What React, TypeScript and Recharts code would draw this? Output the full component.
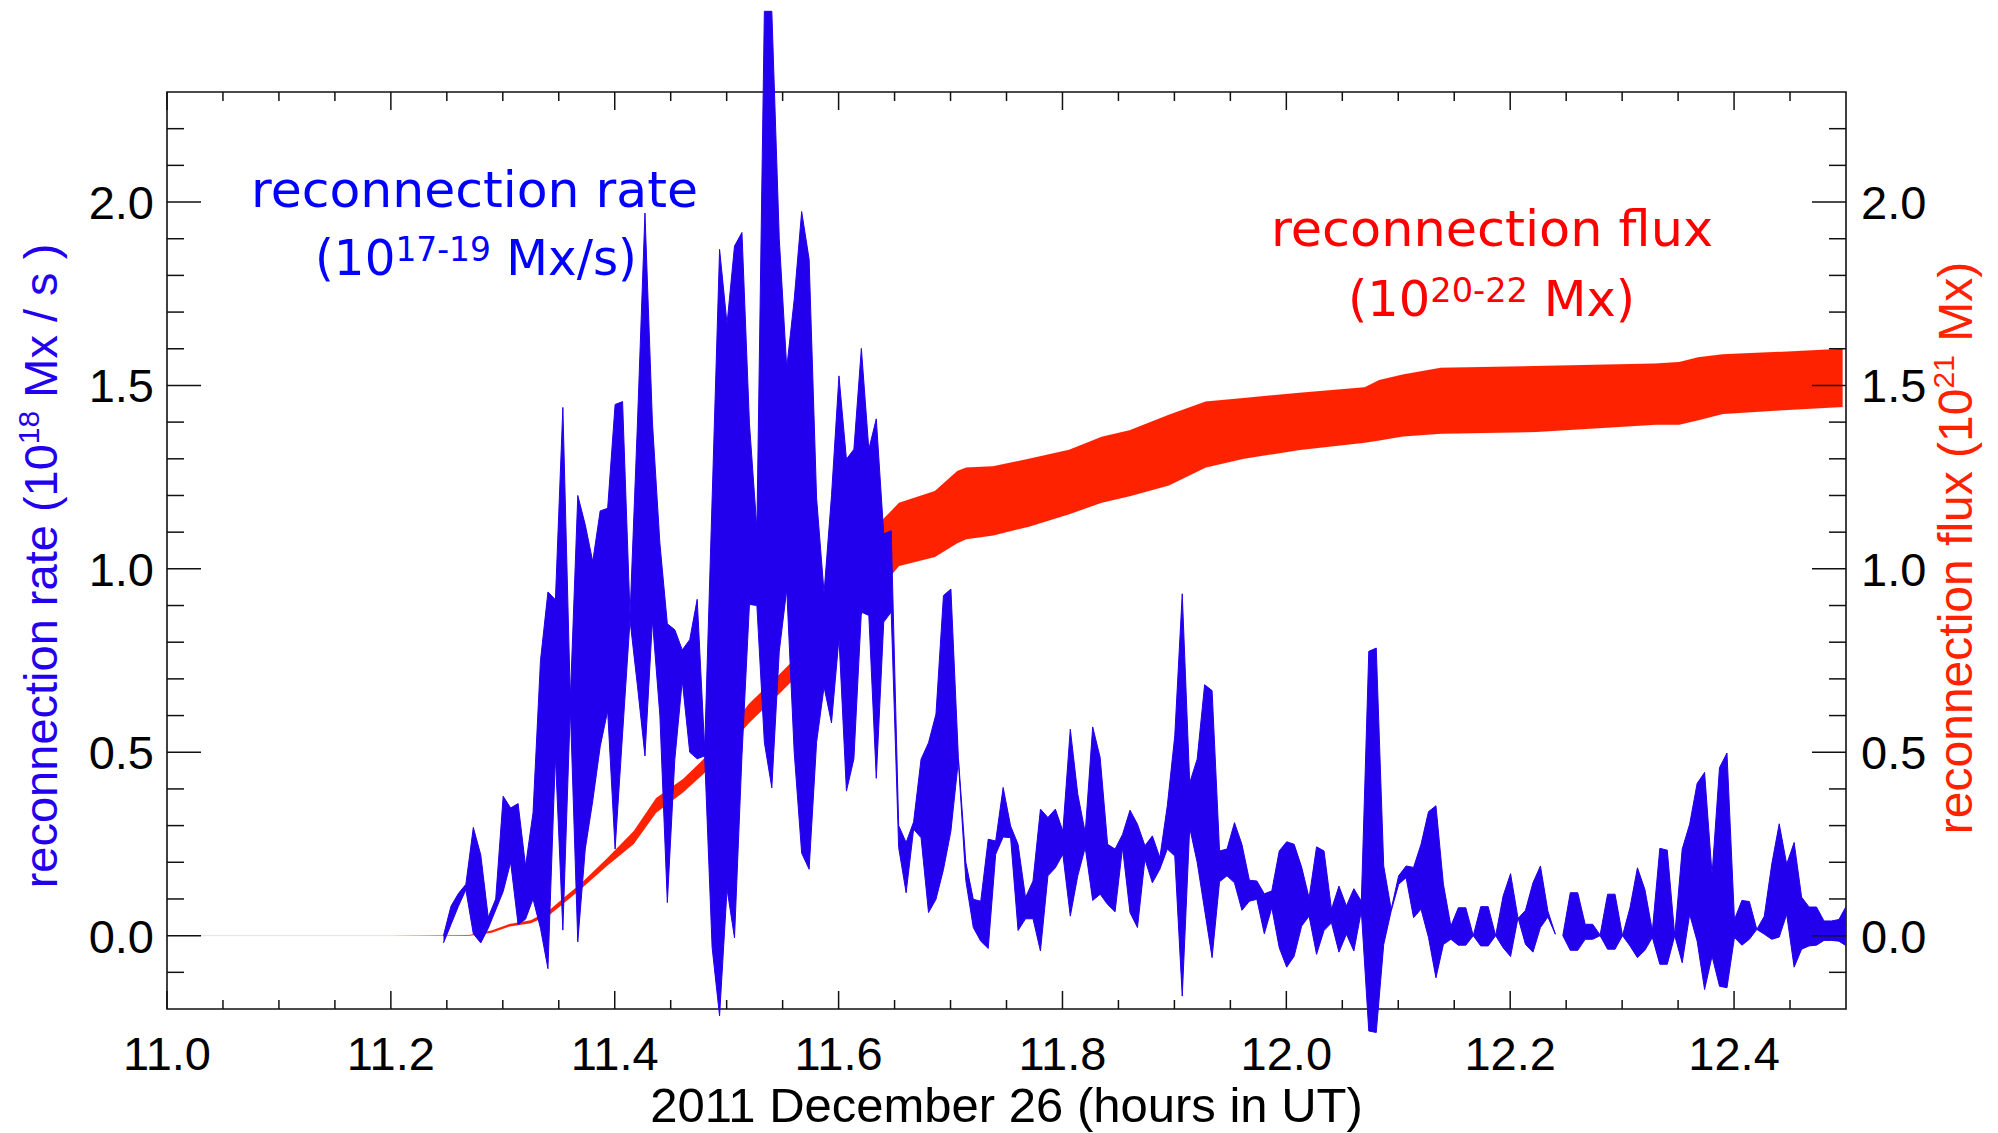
import { ComposedChart, Area, XAxis, YAxis, ReferenceArea } from 'recharts';

// Reconnection rate: upper / lower estimates, one value per 24 s frame
const RATE_START = 11.247;
const RATE_CADENCE = 24 / 3600;
const RATE_BREAK = 150; // frames before this index form the first segment

const RATE_HI = [
  0.0, 0.08, 0.115, 0.14, 0.295, 0.22, 0.05, 0.1, 0.38, 0.348,
  0.36, 0.19, 0.335, 0.75, 0.937, 0.916, 1.44, 0.646, 1.2, 1.12,
  1.02, 1.158, 1.165, 1.448, 1.456, 0.875, 1.4, 1.97, 1.4, 1.07,
  0.85, 0.834, 0.779, 0.807, 0.917, 0.51, 1.19, 1.871, 1.668, 1.88,
  1.917, 1.397, 1.109, 2.52, 2.52, 1.9, 1.548, 1.734, 1.974, 1.844,
  1.193, 0.935, 1.2, 1.526, 1.299, 1.326, 1.601, 1.326, 1.409, 1.095,
  1.104, 0.3, 0.254, 0.31, 0.481, 0.526, 0.604, 0.927, 0.945, 0.486,
  0.2, 0.099, 0.094, 0.263, 0.258, 0.404, 0.299, 0.249, 0.104, 0.149,
  0.345, 0.322, 0.345, 0.285, 0.563, 0.386, 0.281, 0.569, 0.486, 0.249,
  0.236, 0.276, 0.342, 0.304, 0.245, 0.272, 0.213, 0.354, 0.545, 0.932,
  0.417, 0.481, 0.684, 0.668, 0.231, 0.236, 0.308, 0.249, 0.151, 0.149,
  0.114, 0.122, 0.231, 0.256, 0.249, 0.187, 0.103, 0.242, 0.231, 0.072,
  0.135, 0.081, 0.128, 0.094, 0.775, 0.784, 0.19, 0.072, 0.163, 0.19,
  0.186, 0.249, 0.338, 0.354, 0.14, 0.026, 0.076, 0.076, 0.0, 0.079,
  0.079, 0.0, 0.108, 0.169, 0.047, 0.069, 0.144, 0.19, 0.067, 0.004,
  0.0, 0.117, 0.117, 0.031, 0.031, 0.002, 0.113, 0.113, 0.0, 0.076,
  0.185, 0.126, 0.013, 0.238, 0.233, 0.0, 0.236, 0.304, 0.415, 0.445,
  0.167, 0.458, 0.498, 0.044, 0.096, 0.093, 0.017, 0.053, 0.195, 0.305,
  0.195, 0.254, 0.105, 0.078, 0.078, 0.04, 0.04, 0.044, 0.081,
];

const RATE_LO = [
  -0.02, 0.03, 0.08, 0.125, 0.005, -0.02, 0.02, 0.07, 0.12, 0.2,
  0.03, 0.045, 0.1, 0.02, -0.09, 0.49, 0.015, 0.62, -0.017, 0.236,
  0.367, 0.515, 0.613, 0.236, 0.55, 0.86, 0.68, 0.49, 0.86, 0.6,
  0.09, 0.48, 0.695, 0.5, 0.482, 0.49, -0.032, -0.219, 0.127, -0.006,
  0.491, 0.903, 0.9, 0.527, 0.403, 0.775, 0.944, 0.5, 0.225, 0.181,
  0.527, 0.678, 0.58, 0.811, 0.394, 0.482, 0.882, 0.873, 0.429, 0.855,
  0.882, 0.24, 0.117, 0.29, 0.267, 0.063, 0.099, 0.18, 0.285, 0.477,
  0.15, 0.022, -0.015, -0.035, 0.222, 0.269, 0.267, 0.014, 0.046, 0.046,
  -0.042, 0.163, 0.185, 0.222, 0.053, 0.163, 0.24, 0.096, 0.113, 0.085,
  0.065, 0.24, 0.063, 0.022, 0.208, 0.144, 0.181, 0.236, 0.217, -0.165,
  0.294, 0.2, 0.07, -0.06, 0.147, 0.163, 0.144, 0.069, 0.094, 0.099,
  0.005, 0.076, -0.033, -0.086, -0.056, 0.026, 0.053, -0.051, 0.014, 0.035,
  -0.045, 0.004, -0.042, 0.067, -0.26, -0.264, -0.024, 0.067, 0.14, 0.158,
  0.049, 0.072, -0.005, -0.115, -0.024, -0.01, -0.026, -0.026, 0.0, -0.028,
  -0.028, 0.0, -0.033, -0.057, 0.049, -0.024, -0.045, 0.022, 0.051, 0.004,
  0.0, -0.04, -0.04, -0.01, -0.01, 0.0, -0.037, -0.037, 0.0, -0.028,
  -0.06, -0.04, -0.005, -0.078, -0.078, 0.0, -0.074, 0.058, -0.015, -0.147,
  -0.056, -0.138, -0.142, -0.005, -0.026, -0.01, 0.017, 0.004, -0.01, -0.004,
  0.058, -0.086, -0.037, -0.028, -0.026, -0.013, -0.013, -0.015, -0.028,
];

// Cumulative reconnection flux: lower / upper estimates
const FLUX_T = [
  11.0, 11.1, 11.2, 11.27, 11.29, 11.306, 11.325, 11.341, 11.355, 11.369,
  11.393, 11.417, 11.437, 11.461, 11.479, 11.5, 11.52, 11.545, 11.574, 11.616,
  11.638, 11.654, 11.686, 11.706, 11.714, 11.738, 11.77, 11.806, 11.835, 11.86,
  11.895, 11.928, 11.962, 12.012, 12.07, 12.083, 12.104, 12.138, 12.223, 12.33,
  12.351, 12.368, 12.39, 12.436, 12.497,
];
const FLUX_LO = [
  0, 0, 0, 0, 0.008, 0.025, 0.034, 0.055, 0.09, 0.125,
  0.19, 0.25, 0.335, 0.39, 0.44, 0.51, 0.58, 0.653, 0.742, 0.857,
  0.95, 1.008, 1.032, 1.07, 1.081, 1.091, 1.115, 1.149, 1.18, 1.198,
  1.227, 1.276, 1.3, 1.324, 1.344, 1.35, 1.361, 1.368, 1.373, 1.393,
  1.393, 1.405, 1.422, 1.431, 1.441,
];
const FLUX_HI = [
  0, 0, 0, 0.002, 0.014, 0.032, 0.042, 0.068, 0.105, 0.14,
  0.21, 0.285, 0.375, 0.427, 0.48, 0.555, 0.632, 0.706, 0.795, 0.9,
  1.13, 1.18, 1.212, 1.267, 1.276, 1.28, 1.3, 1.325, 1.36, 1.378,
  1.42, 1.456, 1.466, 1.48, 1.495, 1.515, 1.53, 1.548, 1.553, 1.56,
  1.564, 1.577, 1.585, 1.591, 1.6,
];

const X_TICKS = [
  11.0, 11.05, 11.1, 11.15, 11.2, 11.25, 11.3, 11.35, 11.4, 11.45,
  11.5, 11.55, 11.6, 11.65, 11.7, 11.75, 11.8, 11.85, 11.9, 11.95,
  12.0, 12.05, 12.1, 12.15, 12.2, 12.25, 12.3, 12.35, 12.4, 12.45,
];
const Y_TICKS = [
  -0.1, 0, 0.1, 0.2, 0.3, 0.4, 0.5, 0.6, 0.7, 0.8, 0.9, 1.0,
  1.1, 1.2, 1.3, 1.4, 1.5, 1.6, 1.7, 1.8, 1.9, 2.0, 2.1, 2.2,
];

// layout
const W = 1998;
const H = 1133;
const LEFT_W = 167;
const RIGHT_W = 152;
const BOTTOM_H = 87;
const PX_PER_UNIT = 366.8;
const FRAME_LO = -0.2;
const FRAME_HI = 2.3;
// the plot area runs past the frame so the tallest spikes are not clipped
const Y_HI = FRAME_HI + 92 / PX_PER_UNIT;
const Y_LO = Y_HI - (H - BOTTOM_H) / PX_PER_UNIT;

const BLUE = '#2200EE';
const RED = '#FF2200';
const INK = '#111';
const SANS = '"Liberation Sans", Arial, Helvetica, sans-serif';
const HAND = '"Comic Sans MS", "DejaVu Sans", sans-serif';

type Band = [number, number];
type Row = { t: number; flux?: Band; rateA?: Band; rateB?: Band };

const rows: Row[] = [];
FLUX_T.forEach((t, i) => rows.push({ t, flux: [FLUX_LO[i], FLUX_HI[i]] }));
RATE_HI.forEach((hi, k) => {
  const t = RATE_START + k * RATE_CADENCE;
  const band: Band = [RATE_LO[k], hi];
  rows.push(k < RATE_BREAK ? { t, rateA: band } : { t, rateB: band });
});
rows.sort((a, b) => a.t - b.t);

const isMajorX = (v: number) => Math.abs(v * 5 - Math.round(v * 5)) < 1e-6;
const isMajorY = (v: number) => Math.abs(v * 2 - Math.round(v * 2)) < 1e-6;

function BottomTick({ x, y, payload }: any) {
  const v = payload.value;
  const major = isMajorX(v);
  const len = major ? 18 : 9;
  const bottom = y - (FRAME_LO - Y_LO) * PX_PER_UNIT;
  const top = bottom - (FRAME_HI - FRAME_LO) * PX_PER_UNIT;
  return (
    <g>
      <line x1={x} x2={x} y1={bottom} y2={bottom - len} stroke={INK} strokeWidth={1.5} />
      <line x1={x} x2={x} y1={top} y2={top + len} stroke={INK} strokeWidth={1.5} />
      {major && (
        <text x={x} y={bottom + 61} textAnchor="middle" fontFamily={SANS} fontSize={47} fill="#000">
          {v.toFixed(1)}
        </text>
      )}
    </g>
  );
}

function LeftTick({ x, y, payload }: any) {
  const v = payload.value;
  const major = isMajorY(v);
  return (
    <g>
      <line x1={x} x2={x + (major ? 34 : 17)} y1={y} y2={y} stroke={INK} strokeWidth={1.5} />
      {major && (
        <text x={x - 13} y={y + 17} textAnchor="end" fontFamily={SANS} fontSize={47} fill="#000">
          {v.toFixed(1)}
        </text>
      )}
    </g>
  );
}

function RightTick({ x, y, payload }: any) {
  const v = payload.value;
  const major = isMajorY(v);
  return (
    <g>
      <line x1={x} x2={x - (major ? 34 : 17)} y1={y} y2={y} stroke={INK} strokeWidth={1.5} />
      {major && (
        <text x={x + 15} y={y + 17} textAnchor="start" fontFamily={SANS} fontSize={47} fill="#000">
          {v.toFixed(1)}
        </text>
      )}
    </g>
  );
}

function Labels() {
  return (
    <svg width={W} height={H} style={{ position: 'absolute', left: 0, top: 0, pointerEvents: 'none' }}>
      <text x={251} y={207} fontFamily={HAND} fontSize={50} fill="#0000FF" textLength={447} lengthAdjust="spacingAndGlyphs">
        reconnection rate
      </text>
      <text x={315} y={275} fontFamily={HAND} fontSize={50} fill="#0000FF" textLength={322} lengthAdjust="spacingAndGlyphs">
        (10<tspan dy={-14} fontSize={34}>17-19</tspan>
        <tspan dy={14}> Mx/s)</tspan>
      </text>
      <text x={1271} y={246} fontFamily={HAND} fontSize={50} fill="#FF0000" textLength={442} lengthAdjust="spacingAndGlyphs">
        reconnection flux
      </text>
      <text x={1348} y={316} fontFamily={HAND} fontSize={50} fill="#FF0000" textLength={287} lengthAdjust="spacingAndGlyphs">
        (10<tspan dy={-14} fontSize={34}>20-22</tspan>
        <tspan dy={14}> Mx)</tspan>
      </text>

      <text x={57} y={566} transform="rotate(-90 57 566)" textAnchor="middle" fontFamily={SANS} fontSize={47} fill={BLUE}>
        reconnection rate (10<tspan dy={-18} fontSize={30}>18</tspan>
        <tspan dy={18}> Mx / s )</tspan>
      </text>
      <text x={1972} y={548} transform="rotate(-90 1972 548)" textAnchor="middle" fontFamily={SANS} fontSize={48} fill={RED}>
        reconnection flux (10<tspan dy={-18} fontSize={30}>21</tspan>
        <tspan dy={18}> Mx)</tspan>
      </text>

      <text x={(LEFT_W + W - RIGHT_W) / 2} y={1122} textAnchor="middle" fontFamily={SANS} fontSize={49} fill="#000">
        2011 December 26 (hours in UT)
      </text>
    </svg>
  );
}

export default function App() {
  return (
    <div style={{ position: 'absolute', left: 0, top: 0, width: W, height: H, background: '#fff' }}>
      <ComposedChart width={W} height={H} data={rows} margin={{ top: 0, right: 0, bottom: 0, left: 0 }}>
        <XAxis
          dataKey="t"
          type="number"
          domain={[11, 12.5]}
          allowDataOverflow
          ticks={X_TICKS}
          interval={0}
          height={BOTTOM_H}
          axisLine={false}
          tickLine={false}
          tickSize={0}
          tickMargin={0}
          tick={<BottomTick />}
        />
        <YAxis
          yAxisId="left"
          type="number"
          domain={[Y_LO, Y_HI]}
          allowDataOverflow
          ticks={Y_TICKS}
          interval={0}
          width={LEFT_W}
          axisLine={false}
          tickLine={false}
          tickSize={0}
          tickMargin={0}
          tick={<LeftTick />}
        />
        <YAxis
          yAxisId="right"
          orientation="right"
          type="number"
          domain={[Y_LO, Y_HI]}
          allowDataOverflow
          ticks={Y_TICKS}
          interval={0}
          width={RIGHT_W}
          axisLine={false}
          tickLine={false}
          tickSize={0}
          tickMargin={0}
          tick={<RightTick />}
        />
        <ReferenceArea
          yAxisId="left"
          x1={11}
          x2={12.5}
          y1={FRAME_LO}
          y2={FRAME_HI}
          fill="none"
          stroke={INK}
          strokeWidth={1.6}
        />
        <Area
          yAxisId="left"
          type="linear"
          dataKey="flux"
          fill={RED}
          fillOpacity={1}
          stroke={RED}
          strokeWidth={0.6}
          strokeOpacity={0.15}
          connectNulls
          dot={false}
          activeDot={false}
          isAnimationActive={false}
        />
        <Area
          yAxisId="left"
          type="linear"
          dataKey="rateA"
          fill={BLUE}
          fillOpacity={1}
          stroke={BLUE}
          strokeWidth={1}
          connectNulls
          dot={false}
          activeDot={false}
          isAnimationActive={false}
        />
        <Area
          yAxisId="left"
          type="linear"
          dataKey="rateB"
          fill={BLUE}
          fillOpacity={1}
          stroke={BLUE}
          strokeWidth={1}
          connectNulls
          dot={false}
          activeDot={false}
          isAnimationActive={false}
        />
      </ComposedChart>
      <Labels />
    </div>
  );
}
